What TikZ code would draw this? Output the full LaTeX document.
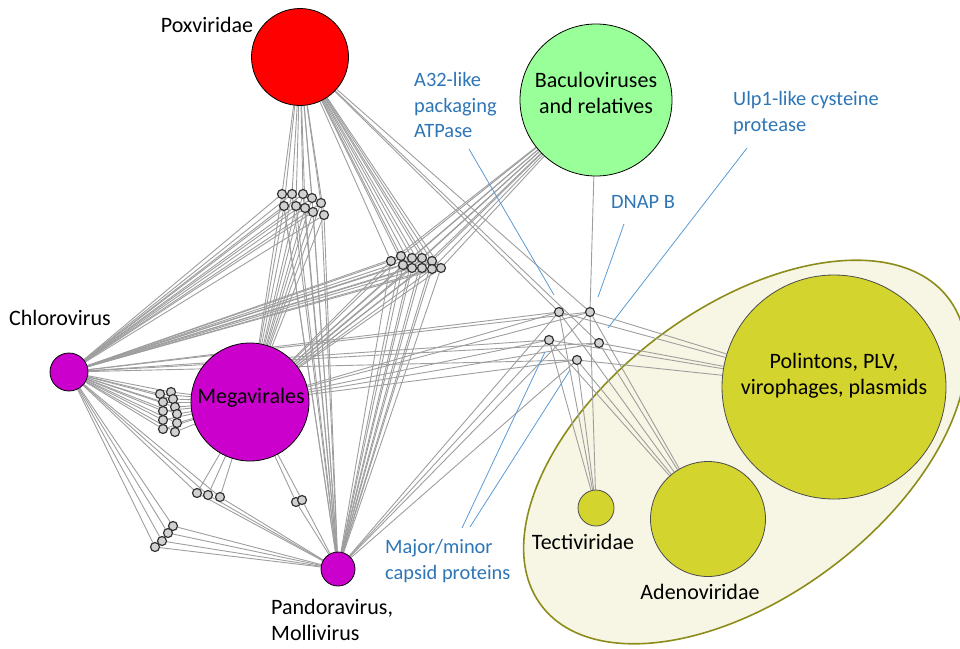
\documentclass[tikz,border=0pt]{standalone}
\usepackage{fontspec}
\setmainfont{Carlito}
\usetikzlibrary{calc}

\definecolor{poxred}{RGB}{255,0,0}
\definecolor{bacgreen}{RGB}{153,255,153}
\definecolor{megmag}{RGB}{204,0,204}
\definecolor{pololive}{RGB}{212,212,46}
\definecolor{elcream}{RGB}{247,246,228}
\definecolor{elborder}{RGB}{140,140,26}
\definecolor{noteblue}{RGB}{46,117,182}
\definecolor{leadblue}{RGB}{91,155,213}

\pgfdeclarelayer{back}
\pgfsetlayers{back,main}

\tikzset{
	virus/.style={circle, draw=black, line width=0.8pt, inner sep=0pt},
	gene/.style={circle, draw=black!80, fill=black!18, line width=1.2pt, inner sep=0pt, minimum size=9pt},
	link/.style={color=black!38, line width=0.9pt},
	pointer/.style={color=leadblue, line width=0.8pt},
	grplabel/.style={inner sep=0pt, font=\fontsize{22}{26}\selectfont, align=left},
	genelabel/.style={inner sep=0pt, text=noteblue, font=\fontsize{20.4}{25.5}\selectfont, align=left},
}

\begin{document}
\begin{tikzpicture}[x=1pt, y=-1pt]
			%%%%% START %%%%%
			\useasboundingbox (0,0) rectangle (960,648);
			
			\begin{pgfonlayer}{back}
			\draw[fill=elcream, draw=elborder, line width=1.6pt, rotate around={37:(745,452)}] (745,452) ellipse (255 and 144);
			\end{pgfonlayer}
			
			% virus groups
			\node[virus, fill=poxred, minimum size=97pt] (pox) at (300,57) {};
			\node[virus, fill=bacgreen, minimum size=152pt] (bac) at (596,100) {};
			\node[virus, fill=megmag, minimum size=38pt] (chl) at (69,372) {};
			\node[virus, fill=megmag, minimum size=118pt] (mega) at (250,402) {};
			\node[virus, fill=megmag, minimum size=34pt] (pan) at (338,569) {};
			\node[virus, fill=pololive, draw=black!70, minimum size=224pt] (pol) at (834,387) {};
			\node[virus, fill=pololive, draw=black!70, minimum size=115pt] (ade) at (708,519) {};
			\node[virus, fill=pololive, draw=black!70, minimum size=36pt] (tec) at (596,508) {};
			
			\node[grplabel] (poxname) at (207,25) {Poxviridae};
			\node[grplabel] (chlname) at (60,318) {Chlorovirus};
			\node[grplabel] (megname) at (251,398) {Megavirales};
			\node[grplabel, anchor=west] (panname) at (271,620) {Pandoravirus,\\Mollivirus};
			\node[grplabel, align=center] (bacname) at (596,93) {Baculoviruses\\and relatives};
			\node[grplabel, align=center] (polname) at (834,376) {Polintons, PLV,\\virophages, plasmids};
			\node[grplabel] (tecname) at (583,542) {Tectiviridae};
			\node[grplabel] (adename) at (700,592) {Adenoviridae};
			
			% shared genes
			\foreach \i/\x/\y in {1/282/194, 2/292/194, 3/303/194, 4/312/198, 5/321/203, 6/284/206, 7/296/206, 8/305/208, 9/313/212, 10/324/215}
				\node[gene] (ga\i) at (\x,\y) {};
			\foreach \i/\x/\y in {1/391/261, 2/401/256, 3/412/258, 4/422/258, 5/432/261, 6/403/265, 7/412/268, 8/422/268, 9/432/269, 10/441/268}
				\node[gene] (gb\i) at (\x,\y) {};
			\foreach \i/\x/\y in {1/160/394, 2/163/402, 3/163/411, 4/163/420, 5/163/429, 6/171/392, 7/173/399, 8/175/407, 9/177/414, 10/177/423, 11/175/432}
				\node[gene] (gc\i) at (\x,\y) {};
			\foreach \i/\x/\y in {1/197/493, 2/208/495, 3/220/497}
				\node[gene] (gd\i) at (\x,\y) {};
			\foreach \i/\x/\y in {1/296/502, 2/302/500}
				\node[gene] (ge\i) at (\x,\y) {};
			\foreach \i/\x/\y in {1/173/526, 2/168/533, 3/162/541, 4/155/547}
				\node[gene] (gf\i) at (\x,\y) {};
			
			\node[gene] (atp) at (559,312) {};
			\node[gene] (dnap) at (590,312) {};
			\node[gene] (capa) at (549,340) {};
			\node[gene] (ulp) at (599,343) {};
			\node[gene] (capb) at (577,360) {};
			
			% gene sharing
			\begin{pgfonlayer}{back}
			\foreach \i in {1,...,10}
				\foreach \v in {pox,chl,mega,pan}
					\draw[link] (ga\i) -- (\v);
			\foreach \i in {1,...,10}
				\foreach \v in {pox,bac,chl,mega,pan}
					\draw[link] (gb\i) -- (\v);
			\foreach \i in {1,...,11}
				\foreach \v in {chl,mega}
					\draw[link] (gc\i) -- (\v);
			\foreach \i in {1,2,3}
				\foreach \v in {chl,mega,pan}
					\draw[link] (gd\i) -- (\v);
			\foreach \i in {1,2}
				\foreach \v in {mega,pan}
					\draw[link] (ge\i) -- (\v);
			\foreach \i in {1,...,4}
				\foreach \v in {chl,pan}
					\draw[link] (gf\i) -- (\v);
			\foreach \v in {pox,chl,mega,pan,pol,ade,tec}
				\draw[link] (atp) -- (\v);
			\foreach \v in {pox,bac,chl,mega,pan,pol,ade,tec}
				\draw[link] (dnap) -- (\v);
			\foreach \v in {pox,chl,mega,pol,ade}
				\draw[link] (ulp) -- (\v);
			\foreach \v in {chl,mega,pan,pol,ade,tec} {
				\draw[link] (capa) -- (\v);
				\draw[link] (capb) -- (\v);
			}
			\end{pgfonlayer}
			
			% gene labels
			\node[genelabel, anchor=west] (atpname) at (414,105) {A32-like\\packaging\\ATPase};
			\node[genelabel, anchor=west] (ulpname) at (733,113) {Ulp1-like cysteine\\protease};
			\node[genelabel] (dnapname) at (643,202) {DNAP B};
			\node[genelabel, anchor=west] (capname) at (385,561) {Major/minor\\capsid proteins};
			
			\coordinate (atpfrom) at (469,149);
			\coordinate (atpto) at (554,295);
			\coordinate (dnapfrom) at (624,224);
			\coordinate (dnapto) at (598,297);
			\coordinate (ulpfrom) at (747,148);
			\coordinate (ulpto) at (608,328);
			\coordinate (capfroma) at (462,528);
			\coordinate (captoa) at (545,352);
			\coordinate (capfromb) at (470,527);
			\coordinate (captob) at (570,370);
			\draw[pointer] (atpfrom) -- (atpto);
			\draw[pointer] (dnapfrom) -- (dnapto);
			\draw[pointer] (ulpfrom) -- (ulpto);
			\draw[pointer] (capfroma) -- (captoa);
			\draw[pointer] (capfromb) -- (captob);
			
			%%%%% END %%%%%
\end{tikzpicture}
\end{document}
